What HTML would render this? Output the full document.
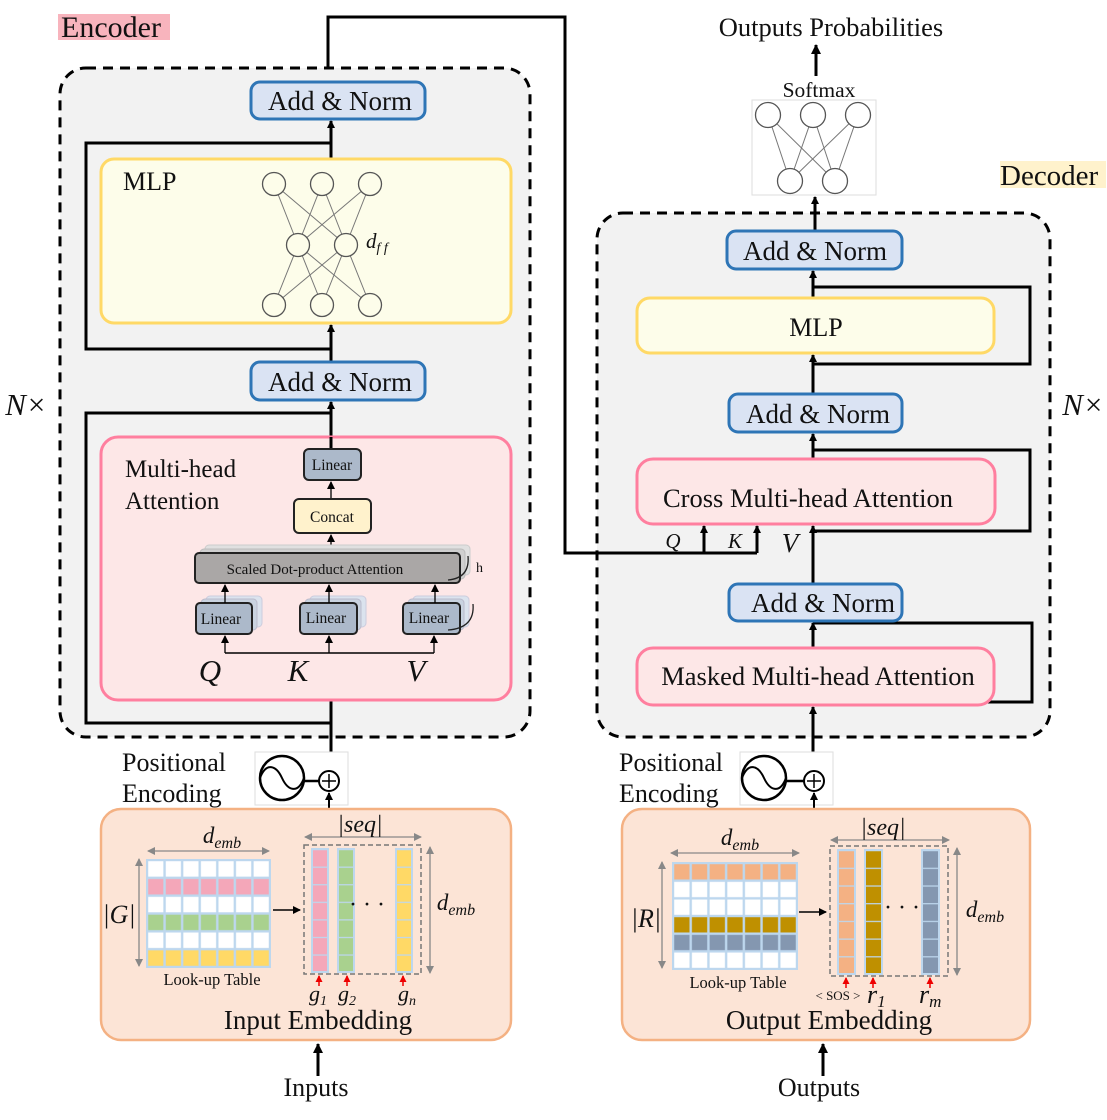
<!DOCTYPE html>
<html><head><meta charset="utf-8"><style>
html,body{margin:0;padding:0;background:#fff}
svg{display:block}
text{font-family:"Liberation Serif",serif;fill:#111}
.it{font-style:italic}
</style></head><body>
<svg width="1107" height="1120" viewBox="0 0 1107 1120" xmlns="http://www.w3.org/2000/svg">
<defs>
<marker id="ah" markerWidth="8" markerHeight="8" refX="7" refY="4" orient="auto" markerUnits="userSpaceOnUse"><path d="M0,0 L8,4 L0,8 z" fill="#000"/></marker>
<marker id="ah2" markerWidth="10" markerHeight="10" refX="9" refY="5" orient="auto" markerUnits="userSpaceOnUse"><path d="M0,0 L10,5 L0,10 z" fill="#000"/></marker>
<marker id="ahr" markerWidth="7" markerHeight="7" refX="6" refY="3.5" orient="auto" markerUnits="userSpaceOnUse"><path d="M0,0 L7,3.5 L0,7 z" fill="#e00"/></marker>
<marker id="ahg" markerWidth="8" markerHeight="8" refX="7" refY="4" orient="auto-start-reverse" markerUnits="userSpaceOnUse"><path d="M0,0 L8,4 L0,8 z" fill="#888"/></marker>
<pattern id="p1" x="147" y="860" width="17.57" height="17.83" patternUnits="userSpaceOnUse"><rect x="0" y="0" width="17.57" height="17.83" fill="none" stroke="#bdd7ee" stroke-width="2.4"/></pattern>
<pattern id="p2" x="673" y="863" width="17.71" height="17.67" patternUnits="userSpaceOnUse"><rect x="0" y="0" width="17.71" height="17.67" fill="none" stroke="#bdd7ee" stroke-width="2.4"/></pattern>
<pattern id="c1" x="0" y="849" width="2000" height="17.57" patternUnits="userSpaceOnUse"><line x1="0" y1="0" x2="2000" y2="0" stroke="#bdd7ee" stroke-width="2.4"/></pattern>
<pattern id="c2" x="0" y="850" width="2000" height="17.7" patternUnits="userSpaceOnUse"><line x1="0" y1="0" x2="2000" y2="0" stroke="#bdd7ee" stroke-width="2.4"/></pattern>
</defs>

<rect x="58" y="14" width="112" height="26" fill="#f8b4bd"/>
<text x="61" y="37" font-size="30">Encoder</text>

<polyline points="328,68 328,17 565,17 565,553 757,553" fill="none" stroke="#000" stroke-width="3"/>

<rect x="60" y="68" width="470" height="669" rx="26" fill="#f2f2f2" stroke="#000" stroke-width="3" stroke-dasharray="10,7"/>

<line x1="331" y1="780" x2="331" y2="402" stroke="#000" stroke-width="3" marker-end="url(#ah)"/>
<polyline points="331,723 86,723 86,413 331,413" fill="none" stroke="#000" stroke-width="3"/>
<line x1="331" y1="362" x2="331" y2="325" stroke="#000" stroke-width="3" marker-end="url(#ah)"/>
<polyline points="331,349 86,349 86,143 331,143" fill="none" stroke="#000" stroke-width="3"/>
<line x1="331" y1="159" x2="331" y2="121" stroke="#000" stroke-width="3" marker-end="url(#ah)"/>

<rect x="251" y="82" width="174" height="37" rx="9" fill="#dae3f3" stroke="#2e75b6" stroke-width="3"/>
<text x="340" y="110" font-size="27" text-anchor="middle">Add &amp; Norm</text>
<rect x="251" y="362" width="174" height="38" rx="9" fill="#dae3f3" stroke="#2e75b6" stroke-width="3"/>
<text x="340" y="391" font-size="27" text-anchor="middle">Add &amp; Norm</text>

<rect x="101" y="159" width="410" height="164" rx="13" fill="#fdfdea" stroke="#ffd966" stroke-width="3"/>
<text x="123" y="190" font-size="26">MLP</text>
<g stroke="#777" stroke-width="1">
<line x1="274" y1="184" x2="298" y2="245"/><line x1="274" y1="184" x2="346" y2="245"/>
<line x1="322" y1="184" x2="298" y2="245"/><line x1="322" y1="184" x2="346" y2="245"/>
<line x1="370" y1="184" x2="298" y2="245"/><line x1="370" y1="184" x2="346" y2="245"/>
<line x1="274" y1="305" x2="298" y2="245"/><line x1="274" y1="305" x2="346" y2="245"/>
<line x1="322" y1="305" x2="298" y2="245"/><line x1="322" y1="305" x2="346" y2="245"/>
<line x1="370" y1="305" x2="298" y2="245"/><line x1="370" y1="305" x2="346" y2="245"/>
</g>
<g fill="#fdfdea" stroke="#555" stroke-width="1.3">
<circle cx="274" cy="184" r="11.5"/><circle cx="322" cy="184" r="11.5"/><circle cx="370" cy="184" r="11.5"/>
<circle cx="298" cy="245" r="11.5"/><circle cx="346" cy="245" r="11.5"/>
<circle cx="274" cy="305" r="11.5"/><circle cx="322" cy="305" r="11.5"/><circle cx="370" cy="305" r="11.5"/>
</g>
<text x="366" y="248" font-size="21" class="it">d<tspan font-size="14" dy="4">f f</tspan></text>

<rect x="101" y="437" width="410" height="263" rx="17" fill="#fde7e7" stroke="#ff7f9f" stroke-width="3"/>
<text x="125" y="477" font-size="25">Multi-head</text>
<text x="125" y="509" font-size="25">Attention</text>
<line x1="331" y1="449" x2="331" y2="437" stroke="#000" stroke-width="3"/>
<line x1="331" y1="499" x2="331" y2="482" stroke="#000" stroke-width="1.3" marker-end="url(#ah)"/>
<line x1="331" y1="553" x2="331" y2="535" stroke="#000" stroke-width="1.3" marker-end="url(#ah)"/>
<rect x="304" y="449" width="57" height="31" rx="5" fill="#acb9ca" stroke="#222" stroke-width="2"/>
<text x="332" y="470" font-size="15.5" text-anchor="middle">Linear</text>
<rect x="294" y="499" width="77" height="34" rx="5" fill="#fff2cc" stroke="#222" stroke-width="2"/>
<text x="332" y="522" font-size="15.5" text-anchor="middle">Concat</text>
<rect x="205" y="545" width="265" height="30" rx="4" fill="#e0e0e0" stroke="#ccc"/>
<rect x="200" y="549" width="265" height="30" rx="4" fill="#cfcfcf" stroke="#bbb"/>
<rect x="195" y="553" width="265" height="30" rx="4" fill="#aaa7a6" stroke="#222" stroke-width="2"/>
<text x="315" y="574" font-size="15" text-anchor="middle">Scaled Dot-product Attention</text>
<path d="M448,580 Q470,578 468,556" fill="none" stroke="#222" stroke-width="1.3"/>
<text x="476" y="572" font-size="14">h</text>
<g>
<rect x="206" y="596" width="56" height="31" rx="4" fill="#dbe3ee" stroke="#ccd"/>
<rect x="201" y="599" width="56" height="31" rx="4" fill="#c9d3e0" stroke="#bbc"/>
<rect x="196" y="603" width="56" height="31" rx="4" fill="#acb9ca" stroke="#222" stroke-width="2"/>
<text x="221" y="624" font-size="15.5" text-anchor="middle">Linear</text>
<rect x="310" y="596" width="56" height="31" rx="4" fill="#dbe3ee" stroke="#ccd"/>
<rect x="305" y="599" width="56" height="31" rx="4" fill="#c9d3e0" stroke="#bbc"/>
<rect x="300" y="603" width="57" height="31" rx="4" fill="#acb9ca" stroke="#222" stroke-width="2"/>
<text x="326" y="623" font-size="15.5" text-anchor="middle">Linear</text>
<rect x="413" y="596" width="56" height="31" rx="4" fill="#dbe3ee" stroke="#ccd"/>
<rect x="408" y="599" width="56" height="31" rx="4" fill="#c9d3e0" stroke="#bbc"/>
<rect x="403" y="603" width="57" height="31" rx="4" fill="#acb9ca" stroke="#222" stroke-width="2"/>
<text x="429" y="623" font-size="15.5" text-anchor="middle">Linear</text>
<path d="M448,630 Q475,628 473,604" fill="none" stroke="#222" stroke-width="1.3"/>
</g>
<g stroke="#000" stroke-width="1.3">
<line x1="225" y1="603" x2="225" y2="585" marker-end="url(#ah)"/>
<line x1="329" y1="603" x2="329" y2="585" marker-end="url(#ah)"/>
<line x1="435" y1="603" x2="435" y2="585" marker-end="url(#ah)"/>
<polyline points="225,653 434,653" fill="none" stroke-width="1.6"/>
<line x1="225" y1="653" x2="225" y2="636" marker-end="url(#ah)"/>
<line x1="329" y1="653" x2="329" y2="636" marker-end="url(#ah)"/>
<line x1="434" y1="653" x2="434" y2="636" marker-end="url(#ah)"/>
</g>
<text x="210" y="681" font-size="31" class="it" text-anchor="middle">Q</text>
<text x="298" y="681" font-size="31" class="it" text-anchor="middle">K</text>
<text x="416" y="681" font-size="31" class="it" text-anchor="middle">V</text>

<text x="26" y="415" font-size="31" class="it" text-anchor="middle">N×</text>
<text x="1083" y="415" font-size="31" class="it" text-anchor="middle">N×</text>

<text x="122" y="771" font-size="26">Positional</text>
<text x="122" y="802" font-size="26">Encoding</text>
<rect x="255" y="752" width="93" height="53" fill="#fff" stroke="#ddd"/>
<circle cx="282" cy="778" r="22" fill="none" stroke="#000" stroke-width="2.5"/>
<path d="M260,778 C266,762 276,765 282,778 C288,791 298,794 304,778" fill="none" stroke="#000" stroke-width="2"/>
<line x1="304" y1="781" x2="319" y2="781" stroke="#000" stroke-width="2.5"/>
<circle cx="329" cy="781" r="10" fill="#fff" stroke="#000" stroke-width="2"/>
<line x1="322" y1="781" x2="336" y2="781" stroke="#000" stroke-width="1.5"/><line x1="329" y1="774" x2="329" y2="788" stroke="#000" stroke-width="1.5"/>
<line x1="329" y1="809" x2="329" y2="793" stroke="#000" stroke-width="2" marker-end="url(#ah)"/>

<rect x="101" y="809" width="410" height="231" rx="20" fill="#fce4d6" stroke="#f4b183" stroke-width="2.5"/>
<rect x="147" y="860" width="123" height="107" fill="#fff"/>
<rect x="147" y="877.8" width="123" height="17.8" fill="#f4a7b9"/>
<rect x="147" y="913.5" width="123" height="17.8" fill="#a9d18e"/>
<rect x="147" y="949.2" width="123" height="17.8" fill="#ffd966"/>
<rect x="147" y="860" width="123" height="107" fill="url(#p1)" stroke="#bdd7ee" stroke-width="2"/>
<line x1="148" y1="851" x2="269" y2="851" stroke="#888" stroke-width="1.3" marker-start="url(#ahg)" marker-end="url(#ahg)"/>
<text x="222" y="843" font-size="23" class="it" text-anchor="middle">d<tspan font-size="16" dy="5">emb</tspan></text>
<line x1="139" y1="859" x2="139" y2="966" stroke="#888" stroke-width="1.3" marker-start="url(#ahg)" marker-end="url(#ahg)"/>
<text x="119" y="923" font-size="26" class="it" text-anchor="middle">|G|</text>
<text x="212" y="985" font-size="16.5" text-anchor="middle">Look-up Table</text>
<line x1="273" y1="910" x2="300" y2="910" stroke="#000" stroke-width="1.5" marker-end="url(#ah)"/>
<rect x="304" y="845" width="117" height="129" fill="none" stroke="#777" stroke-width="1.5" stroke-dasharray="5,3"/>
<rect x="312" y="849" width="16" height="123" fill="#f4a7b9"/><rect x="312" y="849" width="16" height="123" fill="url(#c1)" stroke="#bdd7ee" stroke-width="2"/>
<rect x="338" y="849" width="16" height="123" fill="#a9d18e"/><rect x="338" y="849" width="16" height="123" fill="url(#c1)" stroke="#bdd7ee" stroke-width="2"/>
<rect x="396" y="849" width="16" height="123" fill="#ffd966"/><rect x="396" y="849" width="16" height="123" fill="url(#c1)" stroke="#bdd7ee" stroke-width="2"/>
<text x="367" y="912" font-size="24" text-anchor="middle">· · ·</text>
<line x1="305" y1="837" x2="421" y2="837" stroke="#888" stroke-width="1.3" marker-start="url(#ahg)" marker-end="url(#ahg)"/>
<text x="360" y="832" font-size="24" class="it" text-anchor="middle">|seq|</text>
<line x1="430" y1="847" x2="430" y2="973" stroke="#888" stroke-width="1.3" marker-start="url(#ahg)" marker-end="url(#ahg)"/>
<text x="456" y="910" font-size="23" class="it" text-anchor="middle">d<tspan font-size="16" dy="5">emb</tspan></text>
<g stroke="#e00" stroke-width="1.5">
<line x1="319" y1="986" x2="319" y2="976" marker-end="url(#ahr)"/>
<line x1="347" y1="986" x2="347" y2="976" marker-end="url(#ahr)"/>
<line x1="403" y1="986" x2="403" y2="976" marker-end="url(#ahr)"/>
</g>
<text x="318" y="1001" font-size="22" class="it" text-anchor="middle">g<tspan font-size="14" dy="4">1</tspan></text>
<text x="347" y="1001" font-size="22" class="it" text-anchor="middle">g<tspan font-size="14" dy="4">2</tspan></text>
<text x="407" y="1001" font-size="22" class="it" text-anchor="middle">g<tspan font-size="14" dy="4">n</tspan></text>
<text x="318" y="1029" font-size="27" text-anchor="middle">Input Embedding</text>
<line x1="318" y1="1076" x2="318" y2="1044" stroke="#000" stroke-width="3" marker-end="url(#ah2)"/>
<text x="316" y="1096" font-size="26" text-anchor="middle">Inputs</text>

<text x="831" y="36" font-size="26.5" text-anchor="middle">Outputs Probabilities</text>
<line x1="816" y1="76" x2="816" y2="45" stroke="#000" stroke-width="3" marker-end="url(#ah2)"/>
<text x="819" y="97" font-size="21.5" text-anchor="middle">Softmax</text>
<rect x="752" y="100" width="124" height="95" fill="#fff" stroke="#ddd"/>
<g stroke="#777" stroke-width="1">
<line x1="768" y1="115" x2="790" y2="181"/><line x1="768" y1="115" x2="835" y2="181"/>
<line x1="813" y1="115" x2="790" y2="181"/><line x1="813" y1="115" x2="835" y2="181"/>
<line x1="858" y1="115" x2="790" y2="181"/><line x1="858" y1="115" x2="835" y2="181"/>
</g>
<g fill="#fff" stroke="#555" stroke-width="1.3">
<circle cx="768" cy="115" r="12.5"/><circle cx="813" cy="115" r="12.5"/><circle cx="858" cy="115" r="12.5"/>
<circle cx="790" cy="181" r="12.5"/><circle cx="835" cy="181" r="12.5"/>
</g>
<rect x="1000" y="161" width="106" height="27" fill="#fff2cc"/>
<text x="1000" y="185" font-size="29">Decoder</text>

<rect x="597" y="213" width="453" height="524" rx="26" fill="#f2f2f2" stroke="#000" stroke-width="3" stroke-dasharray="10,7"/>
<line x1="815" y1="231" x2="815" y2="197" stroke="#000" stroke-width="3" marker-end="url(#ah)"/>

<line x1="813" y1="780" x2="813" y2="707" stroke="#000" stroke-width="3" marker-end="url(#ah)"/>
<polyline points="813,702 1032,702 1032,623 813,623" fill="none" stroke="#000" stroke-width="3"/>
<line x1="813" y1="648" x2="813" y2="623" stroke="#000" stroke-width="3" marker-end="url(#ah)"/>
<line x1="813" y1="584" x2="813" y2="526" stroke="#000" stroke-width="3" marker-end="url(#ah)"/>
<polyline points="813,531 1030,531 1030,450 813,450" fill="none" stroke="#000" stroke-width="3"/>
<line x1="813" y1="459" x2="813" y2="434" stroke="#000" stroke-width="3" marker-end="url(#ah)"/>
<line x1="813" y1="394" x2="813" y2="355" stroke="#000" stroke-width="3" marker-end="url(#ah)"/>
<polyline points="813,364 1030,364 1030,287 813,287" fill="none" stroke="#000" stroke-width="3"/>
<line x1="813" y1="298" x2="813" y2="271" stroke="#000" stroke-width="3" marker-end="url(#ah)"/>
<line x1="704" y1="553" x2="704" y2="526" stroke="#000" stroke-width="3" marker-end="url(#ah)"/>
<line x1="757" y1="553" x2="757" y2="526" stroke="#000" stroke-width="3" marker-end="url(#ah)"/>
<line x1="565" y1="553" x2="757" y2="553" stroke="#000" stroke-width="3"/>

<rect x="727" y="231" width="175" height="38" rx="9" fill="#dae3f3" stroke="#2e75b6" stroke-width="3"/>
<text x="815" y="260" font-size="27" text-anchor="middle">Add &amp; Norm</text>
<rect x="637" y="298" width="357" height="55" rx="13" fill="#fdfdea" stroke="#ffd966" stroke-width="3"/>
<text x="816" y="336" font-size="26" text-anchor="middle">MLP</text>
<rect x="729" y="394" width="173" height="38" rx="9" fill="#dae3f3" stroke="#2e75b6" stroke-width="3"/>
<text x="818" y="423" font-size="27" text-anchor="middle">Add &amp; Norm</text>
<rect x="637" y="459" width="358" height="65" rx="16" fill="#fde7e7" stroke="#ff7f9f" stroke-width="3"/>
<text x="808" y="507" font-size="26.5" text-anchor="middle">Cross Multi-head Attention</text>
<text x="673" y="548" font-size="21" class="it" text-anchor="middle">Q</text>
<text x="735" y="548" font-size="21" class="it" text-anchor="middle">K</text>
<text x="790" y="552" font-size="27" class="it" text-anchor="middle">V</text>
<rect x="729" y="584" width="173" height="37" rx="9" fill="#dae3f3" stroke="#2e75b6" stroke-width="3"/>
<text x="823" y="612" font-size="27" text-anchor="middle">Add &amp; Norm</text>
<rect x="637" y="648" width="357" height="57" rx="16" fill="#fde7e7" stroke="#ff7f9f" stroke-width="3"/>
<text x="818" y="685" font-size="26.5" text-anchor="middle">Masked Multi-head Attention</text>

<text x="619" y="771" font-size="26">Positional</text>
<text x="619" y="802" font-size="26">Encoding</text>
<rect x="740" y="752" width="93" height="53" fill="#fff" stroke="#ddd"/>
<circle cx="764" cy="778" r="22" fill="none" stroke="#000" stroke-width="2.5"/>
<path d="M742,778 C748,762 758,765 764,778 C770,791 780,794 786,778" fill="none" stroke="#000" stroke-width="2"/>
<line x1="786" y1="781" x2="804" y2="781" stroke="#000" stroke-width="2.5"/>
<circle cx="814" cy="781" r="10" fill="#fff" stroke="#000" stroke-width="2"/>
<line x1="807" y1="781" x2="821" y2="781" stroke="#000" stroke-width="1.5"/><line x1="814" y1="774" x2="814" y2="788" stroke="#000" stroke-width="1.5"/>
<line x1="814" y1="809" x2="814" y2="793" stroke="#000" stroke-width="2" marker-end="url(#ah)"/>

<rect x="622" y="809" width="408" height="231" rx="20" fill="#fce4d6" stroke="#f4b183" stroke-width="2.5"/>
<rect x="673" y="863" width="124" height="106" fill="#fff"/>
<rect x="673" y="863" width="124" height="17.7" fill="#f4b183"/>
<rect x="673" y="916" width="124" height="17.7" fill="#bf9000"/>
<rect x="673" y="933.7" width="124" height="17.7" fill="#8497b0"/>
<rect x="673" y="863" width="124" height="106" fill="url(#p2)" stroke="#bdd7ee" stroke-width="2"/>
<line x1="671" y1="853" x2="799" y2="853" stroke="#888" stroke-width="1.3" marker-start="url(#ahg)" marker-end="url(#ahg)"/>
<text x="740" y="845" font-size="23" class="it" text-anchor="middle">d<tspan font-size="16" dy="5">emb</tspan></text>
<line x1="662" y1="862" x2="662" y2="968" stroke="#888" stroke-width="1.3" marker-start="url(#ahg)" marker-end="url(#ahg)"/>
<text x="646" y="927" font-size="26" class="it" text-anchor="middle">|R|</text>
<text x="738" y="988" font-size="16.5" text-anchor="middle">Look-up Table</text>
<line x1="799" y1="912" x2="826" y2="912" stroke="#000" stroke-width="1.5" marker-end="url(#ah)"/>
<rect x="830" y="846" width="118" height="130" fill="none" stroke="#777" stroke-width="1.5" stroke-dasharray="5,3"/>
<rect x="838" y="850" width="17" height="124" fill="#f4b183"/><rect x="838" y="850" width="17" height="124" fill="url(#c2)" stroke="#bdd7ee" stroke-width="2"/>
<rect x="865" y="850" width="17" height="124" fill="#bf9000"/><rect x="865" y="850" width="17" height="124" fill="url(#c2)" stroke="#bdd7ee" stroke-width="2"/>
<rect x="922" y="850" width="17" height="124" fill="#8497b0"/><rect x="922" y="850" width="17" height="124" fill="url(#c2)" stroke="#bdd7ee" stroke-width="2"/>
<text x="902" y="915" font-size="24" text-anchor="middle">· · ·</text>
<line x1="831" y1="840" x2="949" y2="840" stroke="#888" stroke-width="1.3" marker-start="url(#ahg)" marker-end="url(#ahg)"/>
<text x="883" y="835" font-size="24" class="it" text-anchor="middle">|seq|</text>
<line x1="957" y1="848" x2="957" y2="975" stroke="#888" stroke-width="1.3" marker-start="url(#ahg)" marker-end="url(#ahg)"/>
<text x="985" y="917" font-size="23" class="it" text-anchor="middle">d<tspan font-size="16" dy="5">emb</tspan></text>
<g stroke="#e00" stroke-width="1.5">
<line x1="846" y1="988" x2="846" y2="978" marker-end="url(#ahr)"/>
<line x1="873" y1="988" x2="873" y2="978" marker-end="url(#ahr)"/>
<line x1="930" y1="988" x2="930" y2="978" marker-end="url(#ahr)"/>
</g>
<text x="838" y="1000" font-size="13" text-anchor="middle">&lt; SOS &gt;</text>
<text x="867" y="1003" font-size="26" class="it" text-anchor="start">r<tspan font-size="17" dy="4">1</tspan></text>
<text x="919" y="1003" font-size="26" class="it" text-anchor="start">r<tspan font-size="17" dy="4">m</tspan></text>
<text x="829" y="1029" font-size="27" text-anchor="middle">Output Embedding</text>
<line x1="823" y1="1076" x2="823" y2="1044" stroke="#000" stroke-width="3" marker-end="url(#ah2)"/>
<text x="819" y="1096" font-size="26" text-anchor="middle">Outputs</text>
</svg>
</body></html>
